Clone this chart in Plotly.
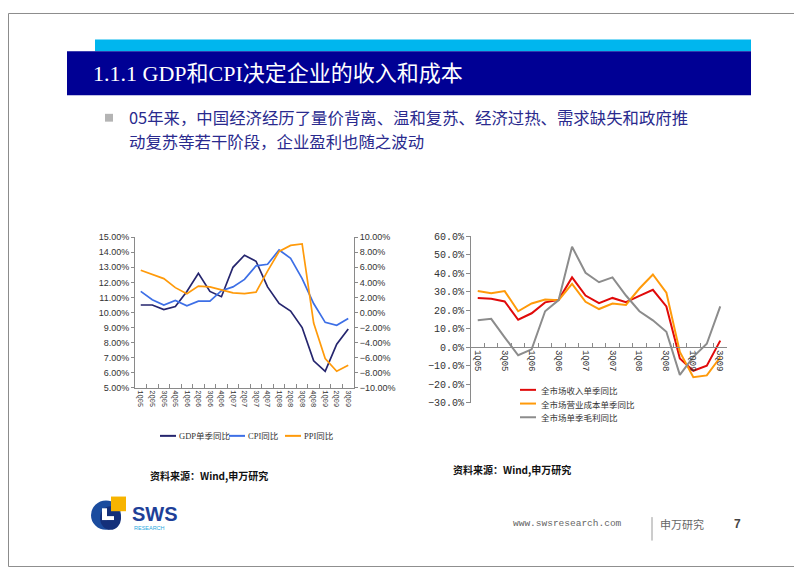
import plotly.graph_objects as go

# ---------------- data ----------------
quarters = ["1Q05", "2Q05", "3Q05", "4Q05", "1Q06", "2Q06", "3Q06", "4Q06",
            "1Q07", "2Q07", "3Q07", "4Q07", "1Q08", "2Q08", "3Q08", "4Q08",
            "1Q09", "2Q09", "3Q09"]

# left chart (GDP on left axis, CPI/PPI on right axis)
gdp_yoy = [10.5, 10.5, 10.2, 10.4, 11.4, 12.6, 11.4, 11.05, 13.0, 13.8, 13.4,
           11.7, 10.6, 10.1, 9.0, 6.8, 6.1, 7.9, 8.9]
cpi_yoy = [2.8, 1.7, 1.0, 1.6, 0.9, 1.5, 1.5, 2.9, 3.4, 4.4, 6.2, 6.4, 8.3,
           7.2, 4.5, 1.2, -1.3, -1.7, -0.8]
ppi_yoy = [5.6, 5.1, 4.5, 3.3, 2.5, 3.5, 3.4, 3.0, 2.6, 2.5, 2.7, 5.5, 8.1,
           8.9, 9.1, -1.4, -6.1, -7.8, -7.0]

# right chart (whole market, single-quarter yoy)
revenue_yoy = [26.5, 26.1, 24.7, 14.8, 18.3, 24.2, 25.6, 37.7, 27.9, 23.8,
               26.6, 24.3, 27.7, 31.0, 22.0, -6.2, -12.8, -10.1, 3.5]
cost_yoy = [30.3, 29.1, 30.3, 19.4, 23.6, 25.7, 25.4, 34.2, 24.5, 20.6, 23.6,
            22.8, 31.7, 39.3, 29.5, -2.6, -16.3, -15.3, -5.5]
gross_yoy = [14.5, 15.3, 5.3, -4.4, -1.2, 19.4, 25.4, 54.3, 40.2, 35.1, 37.7,
             27.9, 19.4, 14.5, 8.3, -15.0, -5.3, 1.8, 22.0]

left_names = ["GDP单季同比", "CPI同比", "PPI同比"]
right_names = ["全市场收入单季同比", "全市场营业成本单季同比", "全市场单季毛利同比"]

# ---------------- helpers ----------------
W, H = 802, 567


def px(x):
    return x / W


def py(y):
    return 1 - y / H


xs = list(range(len(quarters)))
boundaries = [i + 0.5 for i in range(len(quarters) - 1)]

C_GDP, C_CPI, C_PPI = "#25256E", "#3D6FE6", "#FF9A0A"
C_REV, C_COST, C_GROSS = "#E00A0A", "#FF9A0A", "#8C8C8C"
left_colors = [C_GDP, C_CPI, C_PPI]
right_colors = [C_REV, C_COST, C_GROSS]
AX = "#8A8A8A"
CJK = "Noto Sans CJK SC"
SERIF = "Liberation Serif, Noto Sans CJK SC"
MONO = "Liberation Mono, Noto Sans CJK SC"

fig = go.Figure()

for vals, name, col, yax in zip([gdp_yoy, cpi_yoy, ppi_yoy], left_names,
                                left_colors, ["y", "y2", "y2"]):
    fig.add_trace(go.Scatter(x=xs, y=vals, name=name, mode="lines",
                             line=dict(color=col, width=1.7), xaxis="x",
                             yaxis=yax, showlegend=False))

for vals, name, col in zip([revenue_yoy, cost_yoy, gross_yoy], right_names,
                           right_colors):
    fig.add_trace(go.Scatter(x=xs, y=vals, name=name, mode="lines",
                             line=dict(color=col, width=2), xaxis="x2",
                             yaxis="y3", showlegend=False))

left_dom_x = [px(127), px(346)]
left_dom_y = [py(383), py(229)]
right_dom_x = [px(463), px(719)]
right_dom_y = [py(398), py(228)]
y_lo, y_hi = -30, 60
zero_pos = right_dom_y[0] + (0 - y_lo) / (y_hi - y_lo) * (right_dom_y[1] - right_dom_y[0])

fig.update_layout(
    width=W, height=H,
    margin=dict(l=0, r=0, t=0, b=0),
    paper_bgcolor="white", plot_bgcolor="white",
    showlegend=False,
    xaxis=dict(domain=left_dom_x, anchor="y", range=[-0.5, len(quarters) - 0.5],
               tickmode="array", tickvals=xs, ticktext=quarters, ticks="",
               tickangle=90, tickfont=dict(family=MONO, size=7, color="#333"),
               showline=True, linecolor=AX, linewidth=1, showgrid=False,
               zeroline=False,
               minor=dict(tickmode="array", tickvals=boundaries, ticks="inside",
                          ticklen=4, tickcolor=AX, showgrid=False)),
    yaxis=dict(domain=left_dom_y, anchor="x", range=[5, 15], dtick=1,
               tickformat=".2f", ticksuffix="%", ticks="outside", ticklen=3,
               tickcolor=AX, showline=True, linecolor=AX, showgrid=False,
               zeroline=False,
               tickfont=dict(family="Liberation Sans", size=9, color="#333")),
    yaxis2=dict(overlaying="y", side="right", anchor="x", range=[-10, 10], dtick=2,
                tickformat=".2f", ticksuffix="%", ticks="outside", ticklen=3,
                tickcolor=AX, showline=True, linecolor=AX, showgrid=False,
                zeroline=False,
                tickfont=dict(family="Liberation Sans", size=9, color="#333")),
    xaxis2=dict(domain=right_dom_x, anchor="free", position=zero_pos,
                range=[-0.5, len(quarters) - 0.5],
                tickmode="array", tickvals=xs[::2], ticktext=quarters[::2], ticks="",
                tickangle=90, tickfont=dict(family=MONO, size=9, color="#333"),
                showline=True, linecolor=AX, linewidth=1, showgrid=False,
                zeroline=False,
                minor=dict(tickmode="array", tickvals=boundaries, ticks="inside",
                           ticklen=4, tickcolor=AX, showgrid=False)),
    yaxis3=dict(domain=right_dom_y, anchor="x2", range=[y_lo, y_hi], dtick=10,
                tickformat=".1f", ticksuffix="%", ticks="outside", ticklen=4,
                tickcolor=AX, showline=True, linecolor=AX, showgrid=False,
                zeroline=False,
                tickfont=dict(family=MONO, size=10, color="#333")),
)

shapes = [
    # slide border
    dict(type="rect", xref="paper", yref="paper", x0=px(0.5), x1=px(801.5),
         y0=py(565.5), y1=py(0.5), line=dict(color="#8C8C8C", width=1)),
    # title bars
    dict(type="rect", xref="paper", yref="paper", x0=px(87), x1=px(743),
         y0=py(39), y1=py(27), line=dict(width=0), fillcolor="#00B6EE"),
    dict(type="rect", xref="paper", yref="paper", x0=px(59), x1=px(743),
         y0=py(84), y1=py(39), line=dict(width=0), fillcolor="#000094"),
    # bullet square
    dict(type="rect", xref="paper", yref="paper", x0=px(97), x1=px(105),
         y0=py(111), y1=py(103), line=dict(width=0), fillcolor="#B4B4B4"),
    # logo
    dict(type="circle", xref="paper", yref="paper", x0=px(83), x1=px(113),
         y0=py(528), y1=py(498), line=dict(width=0), fillcolor="#1B4C9E"),
    dict(type="circle", xref="paper", yref="paper", x0=px(92), x1=px(113),
         y0=py(528), y1=py(504), line=dict(width=0), fillcolor="#14307A"),
    dict(type="rect", xref="paper", yref="paper", x0=px(103), x1=px(118),
         y0=py(509), y1=py(494), line=dict(width=0), fillcolor="#F7B400"),
    dict(type="rect", xref="paper", yref="paper", x0=px(94), x1=px(99),
         y0=py(518), y1=py(506), line=dict(width=0), fillcolor="white"),
    dict(type="rect", xref="paper", yref="paper", x0=px(94), x1=px(106),
         y0=py(518), y1=py(514), line=dict(width=0), fillcolor="white"),
    # footer divider
    dict(type="line", xref="paper", yref="paper", x0=px(644), x1=px(644),
         y0=py(539), y1=py(515), line=dict(color="#9A9A9A", width=1)),
]

annotations = [
    dict(text="1.1.1 GDP和CPI决定企业的收入和成本", x=px(83), y=py(62),
         font=dict(family=SERIF, size=22, color="white")),
    dict(text="05年来，中国经济经历了量价背离、温和复苏、经济过热、需求缺失和政府推",
         x=px(119), y=py(106),
         font=dict(family=CJK, size=16.4, color="#2A2A8E")),
    dict(text="动复苏等若干阶段，企业盈利也随之波动",
         x=px(119), y=py(130.5),
         font=dict(family=CJK, size=16.4, color="#2A2A8E")),
    dict(text="<b>资料来源：Wind,申万研究</b>", x=px(140), y=py(472),
         font=dict(family=CJK, size=10, color="#111")),
    dict(text="<b>资料来源：Wind,申万研究</b>", x=px(443), y=py(466),
         font=dict(family=CJK, size=10, color="#111")),
    dict(text="<b>SWS</b>", x=px(122), y=py(512),
         font=dict(family="Liberation Sans", size=20, color="#1E3F98")),
    dict(text="RESEARCH", x=px(124), y=py(526),
         font=dict(family="Liberation Sans", size=5.5, color="#2AA8E0")),
    dict(text="www.swsresearch.com", x=px(503), y=py(522),
         font=dict(family="Liberation Mono", size=9.5, color="#666")),
    dict(text="申万研究", x=px(650), y=py(522),
         font=dict(family=CJK, size=11, color="#666")),
    dict(text="<b>7</b>", x=px(724), y=py(522),
         font=dict(family="Liberation Sans", size=12, color="#444")),
]

# legends (drawn as key lines + labels)
left_leg_x = [(152, 168), (221, 237), (277, 293)]
for (x0, x1), name, col in zip(left_leg_x, left_names, left_colors):
    shapes.append(dict(type="line", xref="paper", yref="paper", x0=px(x0),
                       x1=px(x1), y0=py(432), y1=py(432),
                       line=dict(color=col, width=2)))
    annotations.append(dict(text=name, x=px(x1 + 1), y=py(432),
                            font=dict(family=SERIF, size=8.5, color="#333")))

right_leg_y = [385, 399, 413]
for yy, name, col in zip(right_leg_y, right_names, right_colors):
    shapes.append(dict(type="line", xref="paper", yref="paper", x0=px(512),
                       x1=px(528), y0=py(yy), y1=py(yy),
                       line=dict(color=col, width=2)))
    annotations.append(dict(text=name, x=px(531), y=py(yy),
                            font=dict(family=CJK, size=8.5, color="#333")))

for a in annotations:
    a.update(xref="paper", yref="paper", xanchor="left", yanchor="middle",
             showarrow=False)
fig.update_layout(shapes=shapes, annotations=annotations)

fig.write_html("out.html")
